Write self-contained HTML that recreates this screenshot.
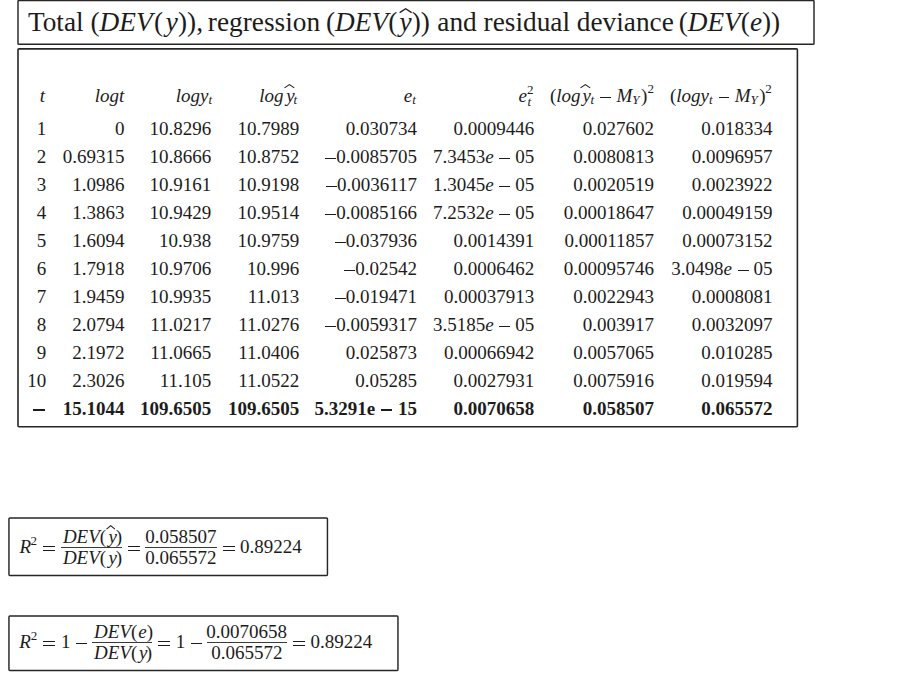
<!DOCTYPE html>
<html><head><meta charset="utf-8"><style>
html,body{margin:0;padding:0;background:#fff;width:900px;height:700px;overflow:hidden;position:relative}
body{font-family:"Liberation Serif",serif;color:#1c1c1c}
.box{position:absolute;border:1.5px solid #2e2e2e;box-sizing:border-box;border-radius:1.5px}
.c{position:absolute;white-space:nowrap;font-size:19px;line-height:0;height:0}
.t{font-size:27.3px}
.b{font-weight:bold}
.sb{font-size:13px;vertical-align:-2.1px}
.mn{display:inline-block;background:#1c1c1c}
.bar{position:absolute}
.hat{position:absolute;overflow:visible}
.frame{position:absolute;left:0;top:0}
</style></head><body>
<svg class="frame" width="900" height="700" viewBox="0 0 900 700"><g fill="none" stroke="#262626" stroke-width="1.45">
<rect x="18.0" y="0.5" width="796.0" height="43.8" rx="0.9"/>
<rect x="18.0" y="48.9" width="779.4" height="377.85" rx="0.9" stroke-width="1.6"/>
<rect x="8.95" y="517.95" width="318.5" height="57.5" rx="0.9"/>
<rect x="8.95" y="615.95" width="389.0" height="54.55" rx="0.9"/>
</g></svg>
<div class="c " style="right:853.7px;top:129px">1</div>
<div class="c " style="right:775.5px;top:129px">0</div>
<div class="c " style="right:688.8px;top:129px">10.8296</div>
<div class="c " style="right:600.7px;top:129px">10.7989</div>
<div class="c " style="right:482.9px;top:129px">0.030734</div>
<div class="c " style="right:365.8px;top:129px">0.0009446</div>
<div class="c " style="right:245.9px;top:129px">0.027602</div>
<div class="c " style="right:127.4px;top:129px">0.018334</div>
<div class="c " style="right:853.7px;top:157px">2</div>
<div class="c " style="right:775.5px;top:157px">0.69315</div>
<div class="c " style="right:688.8px;top:157px">10.8666</div>
<div class="c " style="right:600.7px;top:157px">10.8752</div>
<div class="c " style="right:482.9px;top:157px"><span class="mn" style="width:11.2px;height:1.1px;vertical-align:4.25px;margin:0 0px 0 0px"></span>0.0085705</div>
<div class="c " style="right:365.8px;top:157px">7.3453<i>e</i><span class="mn" style="width:11.2px;height:1.1px;vertical-align:4.25px;margin:0 4.8px 0 5.6px"></span>05</div>
<div class="c " style="right:245.9px;top:157px">0.0080813</div>
<div class="c " style="right:127.4px;top:157px">0.0096957</div>
<div class="c " style="right:853.7px;top:185px">3</div>
<div class="c " style="right:775.5px;top:185px">1.0986</div>
<div class="c " style="right:688.8px;top:185px">10.9161</div>
<div class="c " style="right:600.7px;top:185px">10.9198</div>
<div class="c " style="right:482.9px;top:185px"><span class="mn" style="width:11.2px;height:1.1px;vertical-align:4.25px;margin:0 0px 0 0px"></span>0.0036117</div>
<div class="c " style="right:365.8px;top:185px">1.3045<i>e</i><span class="mn" style="width:11.2px;height:1.1px;vertical-align:4.25px;margin:0 4.8px 0 5.6px"></span>05</div>
<div class="c " style="right:245.9px;top:185px">0.0020519</div>
<div class="c " style="right:127.4px;top:185px">0.0023922</div>
<div class="c " style="right:853.7px;top:213px">4</div>
<div class="c " style="right:775.5px;top:213px">1.3863</div>
<div class="c " style="right:688.8px;top:213px">10.9429</div>
<div class="c " style="right:600.7px;top:213px">10.9514</div>
<div class="c " style="right:482.9px;top:213px"><span class="mn" style="width:11.2px;height:1.1px;vertical-align:4.25px;margin:0 0px 0 0px"></span>0.0085166</div>
<div class="c " style="right:365.8px;top:213px">7.2532<i>e</i><span class="mn" style="width:11.2px;height:1.1px;vertical-align:4.25px;margin:0 4.8px 0 5.6px"></span>05</div>
<div class="c " style="right:245.9px;top:213px">0.00018647</div>
<div class="c " style="right:127.4px;top:213px">0.00049159</div>
<div class="c " style="right:853.7px;top:241px">5</div>
<div class="c " style="right:775.5px;top:241px">1.6094</div>
<div class="c " style="right:688.8px;top:241px">10.938</div>
<div class="c " style="right:600.7px;top:241px">10.9759</div>
<div class="c " style="right:482.9px;top:241px"><span class="mn" style="width:11.2px;height:1.1px;vertical-align:4.25px;margin:0 0px 0 0px"></span>0.037936</div>
<div class="c " style="right:365.8px;top:241px">0.0014391</div>
<div class="c " style="right:245.9px;top:241px">0.00011857</div>
<div class="c " style="right:127.4px;top:241px">0.00073152</div>
<div class="c " style="right:853.7px;top:269px">6</div>
<div class="c " style="right:775.5px;top:269px">1.7918</div>
<div class="c " style="right:688.8px;top:269px">10.9706</div>
<div class="c " style="right:600.7px;top:269px">10.996</div>
<div class="c " style="right:482.9px;top:269px"><span class="mn" style="width:11.2px;height:1.1px;vertical-align:4.25px;margin:0 0px 0 0px"></span>0.02542</div>
<div class="c " style="right:365.8px;top:269px">0.0006462</div>
<div class="c " style="right:245.9px;top:269px">0.00095746</div>
<div class="c " style="right:127.4px;top:269px">3.0498<i>e</i><span class="mn" style="width:11.2px;height:1.1px;vertical-align:4.25px;margin:0 4.8px 0 5.6px"></span>05</div>
<div class="c " style="right:853.7px;top:297px">7</div>
<div class="c " style="right:775.5px;top:297px">1.9459</div>
<div class="c " style="right:688.8px;top:297px">10.9935</div>
<div class="c " style="right:600.7px;top:297px">11.013</div>
<div class="c " style="right:482.9px;top:297px"><span class="mn" style="width:11.2px;height:1.1px;vertical-align:4.25px;margin:0 0px 0 0px"></span>0.019471</div>
<div class="c " style="right:365.8px;top:297px">0.00037913</div>
<div class="c " style="right:245.9px;top:297px">0.0022943</div>
<div class="c " style="right:127.4px;top:297px">0.0008081</div>
<div class="c " style="right:853.7px;top:325px">8</div>
<div class="c " style="right:775.5px;top:325px">2.0794</div>
<div class="c " style="right:688.8px;top:325px">11.0217</div>
<div class="c " style="right:600.7px;top:325px">11.0276</div>
<div class="c " style="right:482.9px;top:325px"><span class="mn" style="width:11.2px;height:1.1px;vertical-align:4.25px;margin:0 0px 0 0px"></span>0.0059317</div>
<div class="c " style="right:365.8px;top:325px">3.5185<i>e</i><span class="mn" style="width:11.2px;height:1.1px;vertical-align:4.25px;margin:0 4.8px 0 5.6px"></span>05</div>
<div class="c " style="right:245.9px;top:325px">0.003917</div>
<div class="c " style="right:127.4px;top:325px">0.0032097</div>
<div class="c " style="right:853.7px;top:353px">9</div>
<div class="c " style="right:775.5px;top:353px">2.1972</div>
<div class="c " style="right:688.8px;top:353px">11.0665</div>
<div class="c " style="right:600.7px;top:353px">11.0406</div>
<div class="c " style="right:482.9px;top:353px">0.025873</div>
<div class="c " style="right:365.8px;top:353px">0.00066942</div>
<div class="c " style="right:245.9px;top:353px">0.0057065</div>
<div class="c " style="right:127.4px;top:353px">0.010285</div>
<div class="c " style="right:853.7px;top:381px">10</div>
<div class="c " style="right:775.5px;top:381px">2.3026</div>
<div class="c " style="right:688.8px;top:381px">11.105</div>
<div class="c " style="right:600.7px;top:381px">11.0522</div>
<div class="c " style="right:482.9px;top:381px">0.05285</div>
<div class="c " style="right:365.8px;top:381px">0.0027931</div>
<div class="c " style="right:245.9px;top:381px">0.0075916</div>
<div class="c " style="right:127.4px;top:381px">0.019594</div>
<div class="c b" style="right:853.7px;top:409px"><span class="mn" style="width:12.0px;height:1.5px;vertical-align:4.4px;margin:0 1px 0 0px"></span></div>
<div class="c b" style="right:775.5px;top:409px">15.1044</div>
<div class="c b" style="right:688.8px;top:409px">109.6505</div>
<div class="c b" style="right:600.7px;top:409px">109.6505</div>
<div class="c b" style="right:482.9px;top:409px">5.3291e<span class="mn" style="width:11.4px;height:1.8px;vertical-align:3.9px;margin:0 5.8px 0 5.8px"></span>15</div>
<div class="c b" style="right:365.8px;top:409px">0.0070658</div>
<div class="c b" style="right:245.9px;top:409px">0.058507</div>
<div class="c b" style="right:127.4px;top:409px">0.065572</div>
<div class="c " style="right:855.0px;top:96px"><i>t</i></div>
<div class="c " style="right:775.6px;top:96px"><i>logt</i></div>
<div class="c " style="right:688.0px;top:96px"><i>logy</i><span class="sb"><i>t</i></span></div>
<div class="c " style="left:259.2px;top:96px"><i>log</i></div>
<div class="c " style="left:286.2px;top:96px"><i>y</i></div>
<div class="c " style="left:293.6px;top:100px;font-size:13px"><i>t</i></div>
<svg class="hat" style="left:281.6px;top:82.2px" width="14.8" height="8.4"><polyline points="2.525,5.875 7.4,2.5775 12.275,5.875" fill="none" stroke="#1c1c1c" stroke-width="1.05" stroke-linejoin="miter" stroke-miterlimit="10"/></svg>
<div class="c " style="left:403.8px;top:96px"><i>e</i></div>
<div class="c " style="left:412.3px;top:100px;font-size:13px"><i>t</i></div>
<div class="c " style="left:518.6px;top:96px"><i>e</i></div>
<div class="c " style="left:526.9px;top:90px;font-size:13px">2</div>
<div class="c " style="left:527.4px;top:102px;font-size:13px"><i>t</i></div>
<div class="c " style="left:550.0px;top:96px">(<i>log</i></div>
<div class="c " style="left:582.6px;top:96px"><i>y</i></div>
<div class="c " style="left:590.5px;top:100px;font-size:13px"><i>t</i></div>
<svg class="hat" style="left:578.3px;top:82.3px" width="14.7" height="8.4"><polyline points="2.525,5.875 7.35,2.5775 12.174999999999999,5.875" fill="none" stroke="#1c1c1c" stroke-width="1.05" stroke-linejoin="miter" stroke-miterlimit="10"/></svg>
<div class="bar" style="left:600.3px;width:10.9px;top:96.75px;height:1.1px;background:#1c1c1c"></div>
<div class="c " style="left:616.5px;top:96px"><i>M</i></div>
<div class="c " style="left:632.2px;top:100px;font-size:13px"><i>Y</i></div>
<div class="c " style="left:641.0px;top:96px">)</div>
<div class="c " style="left:647.45px;top:89px;font-size:13px">2</div>
<div class="c " style="left:670.0px;top:96px">(<i>logy</i><span class="sb"><i>t</i></span></div>
<div class="bar" style="left:719.0px;width:10.4px;top:96.75px;height:1.1px;background:#1c1c1c"></div>
<div class="c " style="left:734.7px;top:96px"><i>M</i></div>
<div class="c " style="left:750.4px;top:100px;font-size:13px"><i>Y</i></div>
<div class="c " style="left:759.2px;top:96px">)</div>
<div class="c " style="left:765.35px;top:89px;font-size:13px">2</div>
<div class="c t" style="left:27.9px;top:22px;font-size:27.3px">Total (<i>DEV</i><span style="margin-left:1.4px">(</span><i style="margin-left:2.8px">y</i>)),</div>
<div class="c t" style="left:207.85px;top:22px;font-size:27.3px">regression</div>
<div class="c t" style="left:326.0px;top:22px;font-size:27.3px">(<i>DEV</i>(<i style="margin-left:2.3px">y</i>))</div>
<svg class="hat" style="left:396.5px;top:6.3px" width="17.3" height="9.3"><polyline points="2.65,6.6499999999999995 8.65,2.715 14.65,6.6499999999999995" fill="none" stroke="#1c1c1c" stroke-width="1.3" stroke-linejoin="miter" stroke-miterlimit="10"/></svg>
<div class="c t" style="left:437.34px;top:22px;font-size:27.3px">and residual deviance <span style="margin-left:-2px">(</span><i>DEV</i>(<i>e</i>))</div>
<div class="c " style="left:19.4px;top:547px"><i>R</i></div>
<div class="c " style="left:30.5px;top:541px;font-size:13px">2</div>
<div class="bar" style="left:43.2px;width:11.9px;top:545.85px;height:1.1px;background:#1c1c1c"></div>
<div class="bar" style="left:43.2px;width:11.9px;top:549.85px;height:1.1px;background:#1c1c1c"></div>
<div class="bar" style="left:60.9px;width:60.9px;top:547.0px;height:1.0px;background:#3a3a3a"></div>
<div class="c " style="left:62.9px;top:537px"><i>DEV</i>(<i style="margin-left:2.3px">y</i><span style="margin-left:-1.2px">)</span></div>
<svg class="hat" style="left:103.8px;top:523.4px" width="13.4" height="8.7"><polyline points="2.525,6.175 6.7,2.5775 10.875,6.175" fill="none" stroke="#1c1c1c" stroke-width="1.05" stroke-linejoin="miter" stroke-miterlimit="10"/></svg>
<div class="c " style="left:62.9px;top:558px"><i>DEV</i>(<i style="margin-left:2.3px">y</i><span style="margin-left:-1.2px">)</span></div>
<div class="bar" style="left:128.0px;width:12.0px;top:545.85px;height:1.1px;background:#1c1c1c"></div>
<div class="bar" style="left:128.0px;width:12.0px;top:549.85px;height:1.1px;background:#1c1c1c"></div>
<div class="bar" style="left:145.3px;width:71.4px;top:547.2px;height:1.0px;background:#3a3a3a"></div>
<div class="c " style="left:145.3px;top:537px">0.058507</div>
<div class="c " style="left:145.3px;top:558px">0.065572</div>
<div class="bar" style="left:222.7px;width:11.9px;top:545.85px;height:1.1px;background:#1c1c1c"></div>
<div class="bar" style="left:222.7px;width:11.9px;top:549.85px;height:1.1px;background:#1c1c1c"></div>
<div class="c " style="left:239.9px;top:547px">0.89224</div>
<div class="c " style="left:19.3px;top:642px"><i>R</i></div>
<div class="c " style="left:30.7px;top:636px;font-size:13px">2</div>
<div class="bar" style="left:42.9px;width:12.0px;top:641.15px;height:1.1px;background:#1c1c1c"></div>
<div class="bar" style="left:42.9px;width:12.0px;top:645.15px;height:1.1px;background:#1c1c1c"></div>
<div class="c " style="left:61.1px;top:642px">1</div>
<div class="bar" style="left:75.8px;width:10.9px;top:643.15px;height:1.1px;background:#1c1c1c"></div>
<div class="bar" style="left:91.7px;width:60.0px;top:642.1px;height:1.0px;background:#3a3a3a"></div>
<div class="c " style="left:94.1px;top:632px"><i>DEV</i>(<i style="margin-left:1px">e</i>)</div>
<div class="c " style="left:94.1px;top:653px"><i>DEV</i>(<i style="margin-left:1.6px">y</i><span style="margin-left:-1.6px">)</span></div>
<div class="bar" style="left:158.0px;width:12.0px;top:641.15px;height:1.1px;background:#1c1c1c"></div>
<div class="bar" style="left:158.0px;width:12.0px;top:645.15px;height:1.1px;background:#1c1c1c"></div>
<div class="c " style="left:175.8px;top:642px">1</div>
<div class="bar" style="left:190.8px;width:10.9px;top:643.15px;height:1.1px;background:#1c1c1c"></div>
<div class="bar" style="left:206.7px;width:80.0px;top:642.1px;height:1.0px;background:#3a3a3a"></div>
<div class="c " style="left:206.3px;top:632px">0.0070658</div>
<div class="c " style="left:211.3px;top:653px">0.065572</div>
<div class="bar" style="left:293.0px;width:12.0px;top:641.15px;height:1.1px;background:#1c1c1c"></div>
<div class="bar" style="left:293.0px;width:12.0px;top:645.15px;height:1.1px;background:#1c1c1c"></div>
<div class="c " style="left:310.6px;top:642px">0.89224</div>
</body></html>
